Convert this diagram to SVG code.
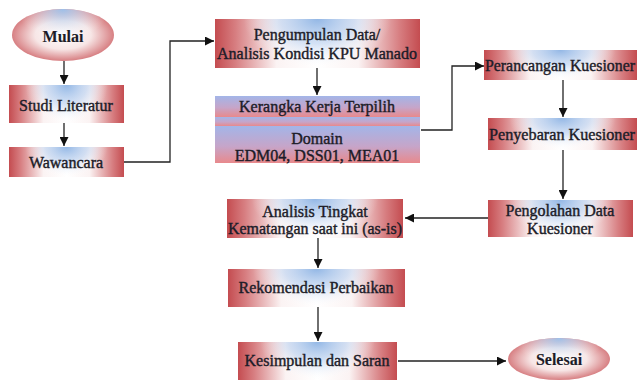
<svg xmlns="http://www.w3.org/2000/svg" width="638" height="381" viewBox="0 0 638 381">
<defs>
<linearGradient id="gh" x1="0" y1="0" x2="1" y2="0">
<stop offset="0" stop-color="#c44c50"/>
<stop offset="0.1" stop-color="#d77e81"/>
<stop offset="0.3" stop-color="#fbf3f3"/>
<stop offset="0.5" stop-color="#ffffff"/>
<stop offset="0.7" stop-color="#fbf3f3"/>
<stop offset="0.9" stop-color="#d77e81"/>
<stop offset="1" stop-color="#c44c50"/>
</linearGradient>
<radialGradient id="gb" cx="0.5" cy="0" r="1" gradientTransform="translate(0.5,0) scale(0.36,1) translate(-0.5,0)">
<stop offset="0" stop-color="#93b7e5" stop-opacity="1"/>
<stop offset="0.5" stop-color="#bcd2f0" stop-opacity="0.65"/>
<stop offset="1" stop-color="#ffffff" stop-opacity="0"/>
</radialGradient>
<radialGradient id="ge" cx="0.5" cy="0.5" r="0.55">
<stop offset="0" stop-color="#ffffff"/>
<stop offset="0.5" stop-color="#f7e6e6"/>
<stop offset="1" stop-color="#d0686c"/>
</radialGradient>
<radialGradient id="geb" cx="0.5" cy="0" r="1" gradientTransform="translate(0.5,0) scale(0.45,0.6) translate(-0.5,0)">
<stop offset="0" stop-color="#9cc0ea" stop-opacity="1"/>
<stop offset="1" stop-color="#ffffff" stop-opacity="0"/>
</radialGradient>
<linearGradient id="gv" x1="0" y1="0" x2="0" y2="1">
<stop offset="0" stop-color="#a3b5e8"/>
<stop offset="0.55" stop-color="#c6a5c9"/>
<stop offset="1" stop-color="#e8898c"/>
</linearGradient>
<marker id="ah" viewBox="0 0 10 10" refX="10" refY="5" markerWidth="9" markerHeight="9" markerUnits="userSpaceOnUse" orient="auto">
<path d="M0,0 L10,5 L0,10 z" fill="#111"/>
</marker>
</defs>
<style>
text{font-family:'Liberation Serif','Times New Roman',serif;font-size:16px;fill:#1c1c28;stroke:#1c1c28;stroke-width:0.4;text-anchor:middle}
.b{font-weight:bold;stroke-width:0.1}
.c{fill:none;stroke:#222;stroke-width:1.3}
</style>
<rect width="638" height="381" fill="#ffffff"/>

<g id="connectors">
<path class="c" d="M64,61 V84" marker-end="url(#ah)"/>
<path class="c" d="M64,123 V146" marker-end="url(#ah)"/>
<path class="c" d="M124,162 H170 V41 H214" marker-end="url(#ah)"/>
<path class="c" d="M317,68 V95" marker-end="url(#ah)"/>
<path class="c" d="M421,130 H452 V66 H484" marker-end="url(#ah)"/>
<path class="c" d="M563,80 V117" marker-end="url(#ah)"/>
<path class="c" d="M563,150 V199" marker-end="url(#ah)"/>
<path class="c" d="M488,218 H405" marker-end="url(#ah)"/>
<path class="c" d="M318,238 V268" marker-end="url(#ah)"/>
<path class="c" d="M318,307 V341" marker-end="url(#ah)"/>
<path class="c" d="M398,361 H506" marker-end="url(#ah)"/>
</g>

<g id="mulai">
<ellipse cx="63" cy="35" rx="51" ry="26" fill="url(#ge)"/>
<ellipse cx="63" cy="35" rx="51" ry="26" fill="url(#geb)"/>
<text class="b" x="63" y="42">Mulai</text>
</g>

<g id="studi">
<rect x="9" y="85" width="115" height="38" fill="url(#gh)"/>
<rect x="9" y="85" width="115" height="38" fill="url(#gb)"/>
<text x="66" y="111">Studi Literatur</text>
</g>

<g id="wawancara">
<rect x="9" y="147" width="115" height="30" fill="url(#gh)"/>
<rect x="9" y="147" width="115" height="30" fill="url(#gb)"/>
<text x="66" y="168">Wawancara</text>
</g>

<g id="pengumpulan">
<rect x="215" y="19" width="205" height="49" fill="url(#gh)"/>
<rect x="215" y="19" width="205" height="49" fill="url(#gb)"/>
<text x="317" y="40">Pengumpulan Data/</text>
<text x="317" y="59" textLength="200" lengthAdjust="spacingAndGlyphs">Analisis Kondisi KPU Manado</text>
</g>

<g id="kerangka">
<rect x="215" y="96" width="205" height="21" fill="url(#gv)"/>
<rect x="215" y="117" width="205" height="9" fill="url(#gv)"/>
<rect x="215" y="126" width="205" height="37" fill="url(#gv)"/>
<text x="317" y="112">Kerangka Kerja Terpilih</text>
<text x="317" y="144">Domain</text>
<text x="317" y="161">EDM04, DSS01, MEA01</text>
</g>

<g id="perancangan">
<rect x="484" y="50" width="153" height="30" fill="url(#gh)"/>
<rect x="484" y="50" width="153" height="30" fill="url(#gb)"/>
<text x="560" y="71" textLength="150" lengthAdjust="spacingAndGlyphs">Perancangan Kuesioner</text>
</g>

<g id="penyebaran">
<rect x="488" y="118" width="149" height="32" fill="url(#gh)"/>
<rect x="488" y="118" width="149" height="32" fill="url(#gb)"/>
<text x="562" y="140" textLength="146" lengthAdjust="spacingAndGlyphs">Penyebaran Kuesioner</text>
</g>

<g id="pengolahan">
<rect x="488" y="200" width="145" height="37" fill="url(#gh)"/>
<rect x="488" y="200" width="145" height="37" fill="url(#gb)"/>
<text x="560" y="216">Pengolahan Data</text>
<text x="560" y="234">Kuesioner</text>
</g>

<g id="analisis">
<rect x="227" y="199" width="176" height="39" fill="url(#gh)"/>
<rect x="227" y="199" width="176" height="39" fill="url(#gb)"/>
<text x="315" y="217">Analisis Tingkat</text>
<text x="315" y="234" textLength="174" lengthAdjust="spacingAndGlyphs">Kematangan saat ini (as-is)</text>
</g>

<g id="rekomendasi">
<rect x="228" y="269" width="177" height="38" fill="url(#gh)"/>
<rect x="228" y="269" width="177" height="38" fill="url(#gb)"/>
<text x="316" y="293">Rekomendasi Perbaikan</text>
</g>

<g id="kesimpulan">
<rect x="238" y="342" width="159" height="38" fill="url(#gh)"/>
<rect x="238" y="342" width="159" height="38" fill="url(#gb)"/>
<text x="317" y="366">Kesimpulan dan Saran</text>
</g>

<g id="selesai">
<ellipse cx="559" cy="359" rx="51" ry="21" fill="url(#ge)"/>
<ellipse cx="559" cy="359" rx="51" ry="21" fill="url(#geb)"/>
<text class="b" x="559" y="365">Selesai</text>
</g>
</svg>
